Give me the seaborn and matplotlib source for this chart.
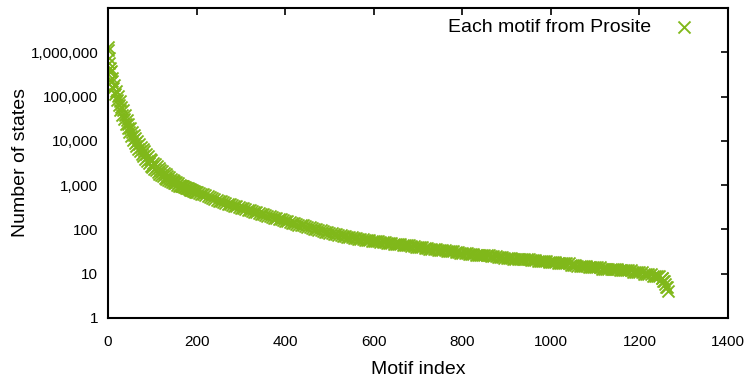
import pandas as pd
import seaborn as sns
import matplotlib.pyplot as plt
from matplotlib.ticker import FuncFormatter, FixedLocator

# values (motif index -> number of states)
# steep head of the curve
head_idx = [0, 1, 2, 3, 4, 5] + list(range(6, 200, 2))
head_states = [1320000, 1120000, 741000, 562000, 447000, 355000,
               380000, 229000, 263000, 158000, 182000, 112000, 135000, 85100, 102000, 64600,
               77600, 49000, 58900, 38900, 49000, 31600, 38000, 24000, 29500, 19100,
               23400, 15500, 19500, 12900, 16200, 10700, 13500, 8910, 11500, 7760,
               9770, 6610, 8510, 5750, 7410, 5010, 6460, 4470, 5750, 3890,
               5130, 3470, 4470, 3090, 3980, 2750, 3630, 2510, 3240, 2340,
               2950, 2140, 2690, 1950, 2450, 1780, 2240, 1700, 2040, 1580,
               1910, 1480, 1740, 1380, 1620, 1290, 1510, 1230, 1410, 1170,
               1320, 1120, 1230, 1100, 1170, 1020, 1100, 977, 1000, 977,
               966, 955, 933, 912, 891, 881, 871, 851, 832, 813,
               794, 776, 759, 741, 733, 716, 700]

# long flat part, every 5th motif
body_idx = list(range(200, 1250, 5))
body_states = [692, 668, 646, 617, 589, 562, 537, 513, 490, 468, 447, 427, 407, 393, 380, 367, 355, 343, 331, 320,
               309, 298, 288, 278, 269, 260, 251, 242, 234, 226, 219, 211, 204, 197, 191, 184, 178, 174, 170, 164,
               158, 153, 148, 143, 138, 133, 129, 126, 123, 119, 115, 111, 107, 103, 100, 97, 95, 92, 89, 87,
               85, 82, 79, 77, 76, 74, 72, 70, 69, 67, 66, 64, 63, 62, 61, 60, 59, 58, 57, 56,
               55, 54, 54, 53, 52, 51, 50, 49, 49, 48, 48, 47, 46, 45, 45, 44, 44, 43, 42, 41,
               41, 40, 40, 39, 38, 37, 37, 36, 36, 35, 35, 34, 34, 33, 32, 32, 32, 31, 31, 30,
               29, 29, 29, 28, 28, 28, 27, 27, 27, 26, 26, 26, 26, 25, 25, 25, 24, 24, 24, 23,
               23, 23, 23, 22, 22, 22, 22, 21, 21, 21, 21, 20, 20, 20, 19, 19, 19, 19, 19, 18,
               18, 18, 18, 17, 17, 17, 17, 17, 17, 16, 16, 16, 15, 15, 15, 15, 15, 14, 14, 14,
               14, 14, 14, 13, 13, 13, 13, 13, 13, 13, 13, 12, 12, 12, 12, 12, 12, 11, 11, 11,
               11, 11, 10, 10, 10, 10, 9, 9, 9, 9]

# tail
tail_idx = [1250, 1252, 1254, 1256, 1258, 1260, 1262, 1264]
tail_states = [8, 8, 7, 7, 6, 5, 5, 4]

df = pd.DataFrame({"idx": head_idx + body_idx + tail_idx,
                   "states": head_states + body_states + tail_states})

sns.set_style("white")
plt.rcParams['font.family'] = ['Liberation Sans', 'DejaVu Sans']
plt.rcParams['text.color'] = 'black'
plt.rcParams['axes.labelcolor'] = 'black'

fig = plt.figure(figsize=(7.47, 3.79), dpi=100)
ax = fig.add_axes([0.1446, 0.161, 0.83, 0.818])

sns.scatterplot(data=df, x="idx", y="states", marker="x", color="#80b81a",
                s=75, linewidth=1.35, ax=ax, label="Each motif from Prosite")

ax.set_yscale("log")
ax.set_ylim(1, 1e7)
ax.set_xlim(0, 1400)
ax.yaxis.set_major_locator(FixedLocator([1, 10, 100, 1000, 10000, 100000, 1000000]))
ax.yaxis.set_minor_locator(FixedLocator([]))
ax.yaxis.set_major_formatter(FuncFormatter(lambda v, p: f"{int(round(v)):,}"))
ax.set_xticks(range(0, 1401, 200))

ax.tick_params(direction="in", length=5, width=1.2, top=True, right=True,
               labelsize=11, colors="black")
ax.tick_params(axis="x", pad=12)
ax.tick_params(axis="y", pad=7)
for sp in ax.spines.values():
    sp.set_linewidth(1.5)
    sp.set_color("black")

ax.set_xlabel("Motif index", fontsize=14, labelpad=9)
ax.set_ylabel("Number of states", fontsize=14, labelpad=1)

leg = ax.legend(loc="upper right", bbox_to_anchor=(0.9726, 0.99), frameon=False,
                markerfirst=False, fontsize=14, handletextpad=0.7, borderaxespad=0)

fig.savefig("out.png", dpi=100)
